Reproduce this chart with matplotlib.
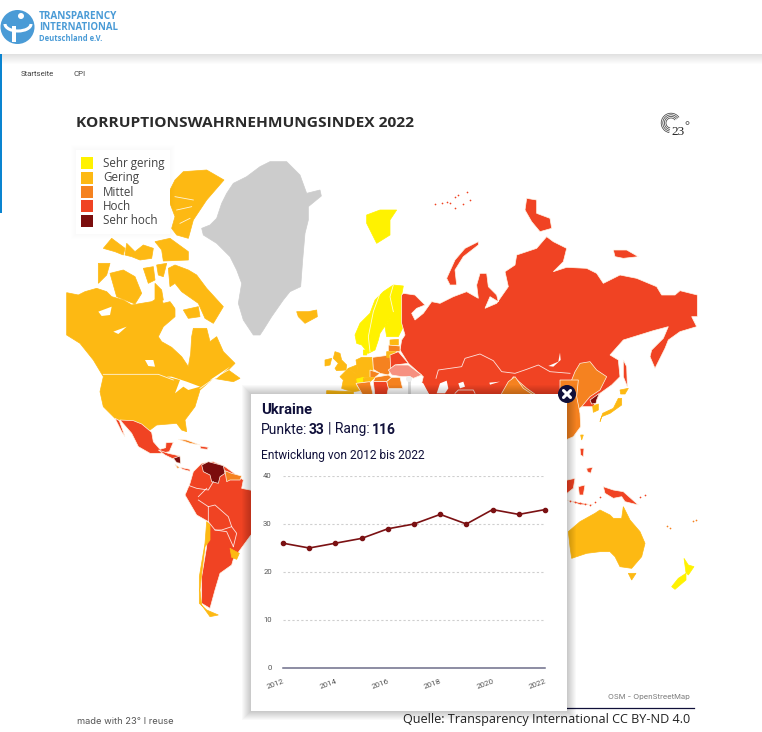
import matplotlib
matplotlib.use("Agg")
import matplotlib.pyplot as plt
from matplotlib.patches import Rectangle, Circle, Arc

# index classes
legend_labels = ["Sehr gering", "Gering", "Mittel", "Hoch", "Sehr hoch"]
legend_colors = ["#fff200", "#fdb913", "#f58220", "#f04323", "#7b0d0d"]
YEL, GER, MIT, HOC, SHO = legend_colors
NODATA = "#cccccc"
HILITE = "#f69080"
NAVY = "#10103a"

# Ukraine series
years = [2012, 2013, 2014, 2015, 2016, 2017, 2018, 2019, 2020, 2021, 2022]
punkte = [26, 25, 26, 27, 29, 30, 32, 30, 33, 32, 33]
y_ticks = [0, 10, 20, 30, 40]
x_ticks = [2012, 2014, 2016, 2018, 2020, 2022]

# map outlines, traced at 3x from crops of the map. (origin x, origin y) per group
NA = (60, 160)
EA = (340, 180)
LA = (100, 400)
OC = (560, 380)
EU = (320, 320)
AS = (430, 340)

greenland = [(425,205),(450,195),(470,175),(485,130),(500,100),(520,70),(560,50),(600,20),(630,5),(680,5),(720,45),(740,100),(780,90),(784,108),(745,140),(745,180),(735,220),(728,300),(722,380),(690,395),(670,420),(635,470),(610,510),(600,525),(580,525),(550,480),(535,430),(545,370),(530,330),(510,290),(470,250),(430,225)]
north_america = [(20,398),(55,405),(75,395),(110,385),(140,395),(155,410),(190,420),(215,435),(245,430),(275,425),(300,410),(310,430),(330,425),(345,445),(345,470),(310,500),(295,530),(305,545),(335,562),(365,590),(385,620),(392,580),(395,530),(400,505),(440,505),(450,545),(470,530),(490,575),(525,610),(505,630),(540,655),(520,665),(460,655),(420,690),(405,740),(375,780),(380,815),(365,810),(350,790),(290,795),(270,810),(255,825),(225,790),(195,785),(165,775),(130,740),(120,695),(130,650),(100,600),(60,550),(20,525)]
baffin = [(325,325),(345,315),(385,330),(410,345),(440,385),(490,440),(460,490),(435,475),(415,430),(365,395),(345,370),(330,380)]
southampton = [(370,450),(415,440),(420,470),(385,475)]
victoria = [(150,340),(190,330),(225,350),(245,400),(225,432),(170,410)]
banks = [(115,310),(150,310),(140,345),(115,370)]
ellesmere = [(370,35),(440,30),(492,60),(440,120),(400,180),(385,235),(350,225),(335,205),(345,170),(330,130),(330,90),(345,60)]
devon = [(285,245),(330,235),(385,275),(385,300),(310,303),(305,270)]
bathurst = [(200,250),(225,275),(250,255),(280,265),(275,295),(240,300),(215,290),(195,285)]
melville = [(130,265),(155,235),(195,265),(190,285),(165,275)]
pr_wales = [(250,325),(280,320),(285,360),(265,370)]
somerset = [(290,315),(320,310),(310,350),(295,345)]
boothia = [(285,370),(305,390),(310,420),(285,430)]
lakes = [
    [(115,455),(155,440),(150,465),(125,468)],
    [(160,515),(200,500),(175,522)],
    [(255,600),(280,600),(285,620),(265,618)],
    [(320,650),(360,660),(345,700),(370,680),(385,690),(420,680),(380,665),(335,650)],
    [(450,660),(510,620),(470,655)],
]
fjords = [
    [(345,110),(400,120)],
    [(350,150),(395,140)],
    [(360,190),(390,175)],
    [(320,395),(350,450)],
]
iceland = [(710,455),(745,455),(770,450),(772,470),(735,490),(715,470)]

svalbard = [(80,105),(120,90),(170,90),(150,120),(150,165),(110,190),(95,160),(80,130)]
scandinavia = [(45,465),(60,430),(90,400),(105,360),(130,335),(160,315),(190,318),(185,345),(195,430),(175,470),(140,470),(135,440),(160,400),(120,460),(115,480),(105,510),(85,520),(65,495),(50,490)]
russia = [(190,340),(225,345),(255,375),(230,385),(215,400),(225,420),(250,400),(275,365),(300,370),(340,350),(380,335),(415,355),(410,315),(420,280),(440,280),(445,320),(470,345),(475,365),(450,350),(435,385),(470,370),(505,320),(495,275),(525,255),(530,225),(590,205),(620,170),(640,185),(680,205),(670,245),(640,275),(680,262),(740,265),(770,280),(790,310),(840,285),(890,295),(950,320),(965,345),(1005,345),(1020,332),(1072,345),(1072,410),(1055,410),(1070,440),(1020,455),(985,480),(975,505),(945,565),(930,530),(935,510),(970,475),(985,440),(940,452),(850,480),(810,525),(835,540),(840,590),(815,615),(780,640),(760,680),(290,680),(245,610),(250,590),(205,550),(180,510),(185,480),(195,465),(185,430),(185,345)]
novaya = [(320,295),(345,240),(375,205),(415,185),(415,195),(370,230),(345,270),(350,315),(330,315)]
severnaya = [(560,55),(590,60),(590,100),(630,115),(635,145),(600,155),(575,125),(555,90)]
novosib = [(820,210),(860,210),(895,230),(850,235),(825,230)]
sakhalin = [(850,540),(860,560),(862,620),(850,590)]
china_ne = [(490,640),(520,590),(560,625),(610,660),(650,660),(695,600),(705,575),(720,550),(750,545),(770,570),(800,590),(780,630),(750,650),(725,680),(700,700),(640,700)]
hokkaido = [(180,30),(205,25),(195,42),(182,42)]
honshu = [(185,55),(185,75),(150,100),(125,110),(120,125),(128,100),(160,85),(175,55)]
nkorea = [(90,60),(118,40),(110,60),(108,70),(95,72)]
skorea = [(98,78),(115,72),(115,90),(100,97)]
taiwan = [(62,165),(70,165),(65,180)]
china_s = [(0,0),(55,0),(50,50),(60,100),(62,140),(40,170),(22,178),(0,178)]
philip1 = [(60,205),(72,205),(70,230),(62,225)]
philip2 = [(80,265),(98,262),(92,280),(82,275)]
borneo = [(0,305),(45,295),(40,325),(21,340),(0,340)]
sulawesi = [(55,320),(75,315),(70,345),(58,345)]
papua = [(130,320),(160,330),(190,335),(235,375),(195,365),(185,350),(160,355),(135,340)]
java = [(21,360),(60,368),(100,375),(60,374)]
australia = [(25,455),(60,425),(105,400),(120,390),(150,405),(160,415),(185,415),(190,380),(210,420),(240,455),(255,490),(245,530),(215,565),(180,560),(165,530),(150,515),(120,515),(80,520),(35,535),(30,500)]
tasmania = [(205,580),(228,580),(215,600)]
nz_north = [(372,535),(385,555),(402,560),(385,585),(378,578)]
nz_south = [(378,580),(378,600),(345,628),(335,620),(355,595)]

mexico = [(60,60),(100,62),(125,72),(155,97),(160,125),(180,148),(197,143),(198,128),(220,127),(208,155),(180,160),(150,160),(115,140),(95,100)]
baja = [(45,55),(58,62),(75,110),(65,95)]
central_am = [(175,150),(205,160),(240,168),(222,178),(195,165)]
nicaragua = [(220,175),(240,168),(242,190),(230,188)]
costa_rica = [(225,193),(240,203),(232,205)]
panama = [(240,202),(270,208),(270,214),(248,208)]
cuba = [(235,118),(260,120),(300,135),(270,130)]
hispaniola = [(300,138),(325,142),(322,148),(302,146)]
south_america = [(270,250),(280,215),(305,190),(340,185),(375,200),(430,240),(425,265),(500,280),(540,340),(520,420),(453,405),(420,450),(400,478),(395,495),(360,520),(345,570),(330,625),(305,610),(305,530),(320,440),(325,365),(290,345),(255,285)]
venezuela = [(305,195),(325,185),(370,197),(375,220),(360,230),(355,250),(335,245),(330,225),(310,215)]
guyanas = [(375,212),(395,220),(425,228),(420,240),(390,240),(380,245)]
uruguay = [(390,445),(418,460),(410,478),(395,472)]
chile = [(320,365),(330,375),(330,420),(315,440),(305,520),(300,570),(305,615),(330,650),(355,645),(320,630),(298,610),(298,530),(315,430)]

uk = [(45,95),(60,100),(65,120),(80,135),(78,150),(50,152),(45,145),(55,130),(40,115)]
ireland = [(15,120),(35,115),(30,135),(15,138)]
france = [(60,170),(85,145),(112,165),(118,180),(108,195),(120,212),(100,215),(80,210),(65,205),(70,180)]
benelux = [(85,145),(110,135),(115,165),(112,165)]
germany = [(108,120),(125,112),(155,112),(160,148),(150,172),(112,175),(112,145)]
swiss = [(110,177),(130,172),(135,185),(112,190)]
poland = [(158,112),(210,105),(218,145),(205,165),(180,160),(160,148)]
czech = [(150,150),(180,160),(165,172),(150,172)]
austria = [(130,175),(150,172),(165,172),(150,185),(130,185)]
denmark = [(130,90),(145,90),(140,105),(130,105)]
estonia = [(210,60),(235,58),(235,75),(210,75)]
latvia = [(205,75),(240,78),(240,95),(205,95)]
lithuania = [(200,95),(228,95),(220,115),(200,112)]
belarus = [(210,105),(235,95),(265,130),(225,135),(212,148)]
ukraine = [(205,150),(225,135),(265,135),(305,165),(280,175),(270,170),(245,170),(215,165)]
hungary = [(165,172),(205,165),(215,172),(200,185),(160,185)]
romania = [(200,185),(215,172),(240,172),(248,205),(205,205)]
balkans = [(160,185),(200,185),(205,205),(200,228),(165,228)]
italy = [(108,190),(150,185),(160,228),(130,228)]
spain = [(20,212),(100,215),(100,228),(20,228)]
black_sea = [(248,180),(275,175),(310,190),(330,228),(250,228)]

china_w = [(215,160),(235,125),(255,110),(280,145),(310,165),(215,165)]
caspian = [(20,160),(30,130),(50,122),(55,145),(45,160)]
aral = [(85,130),(100,125),(105,140),(90,145)]
balkhash = [(178,128),(210,125),(180,134)]
baikal = [(355,78),(385,65),(390,38),(392,60),(370,80)]
kaz_border = [(18,115),(25,90),(60,85),(95,80),(105,55),(150,42),(190,62),(215,95),(255,100),(290,88),(325,75),(360,95),(420,100)]
south_borders = [(75,160),(85,150),(130,150),(135,160)]
sa_borders = [
    [(258,275),(262,255),(290,265),(325,270),(340,245)],
    [(295,290),(320,265)],
    [(295,300),(325,320),(345,315),(385,350),(395,380),(410,400),(400,440)],
    [(325,320),(325,365),(345,390),(365,390),(395,380)],
    [(345,390),(380,395),(400,440)],
]
scand_borders = [
    [(120,340),(100,395),(85,470),(90,515)],
    [(160,315),(150,350),(160,395)],
]
us_border = [(130,643),(295,643),(340,660)]
us_border2 = [(420,685),(470,650),(505,630)]

# specks too small to outline
franz_x = [285, 305, 320, 345, 355, 380, 390, 370, 345, 330]
franz_y = [72, 70, 65, 50, 45, 35, 60, 72, 85, 70]
indo_x = [30, 45, 60, 75, 90, 105, 120, 240, 255]
indo_y = [362, 366, 370, 372, 375, 365, 350, 350, 345]
pacific_x = [320, 330, 400, 408]
pacific_y = [437, 445, 422, 420]

regions = [
    (greenland, NA, NODATA),
    (north_america, NA, GER), (baffin, NA, GER), (southampton, NA, GER), (victoria, NA, GER), (banks, NA, GER),
    (ellesmere, NA, GER), (devon, NA, GER), (bathurst, NA, GER), (melville, NA, GER),
    (pr_wales, NA, GER), (somerset, NA, GER), (boothia, NA, GER), (iceland, NA, GER),
    (svalbard, EA, YEL), (scandinavia, EA, YEL),
    (russia, EA, HOC), (novaya, EA, HOC), (severnaya, EA, HOC), (novosib, EA, HOC), (sakhalin, EA, HOC),
    (china_ne, EA, MIT), (china_s, OC, MIT), (taiwan, OC, GER),
    (hokkaido, OC, GER), (honshu, OC, GER), (nkorea, OC, SHO), (skorea, OC, GER),
    (philip1, OC, HOC), (philip2, OC, HOC), (borneo, OC, HOC), (sulawesi, OC, HOC), (papua, OC, HOC), (java, OC, HOC),
    (australia, OC, GER), (tasmania, OC, GER), (nz_north, OC, YEL), (nz_south, OC, YEL),
    (mexico, LA, HOC), (baja, LA, HOC), (central_am, LA, HOC), (nicaragua, LA, SHO), (costa_rica, LA, MIT),
    (panama, LA, HOC), (cuba, LA, MIT), (hispaniola, LA, HOC),
    (south_america, LA, HOC), (venezuela, LA, SHO), (guyanas, LA, MIT), (uruguay, LA, GER), (chile, LA, GER),
    (uk, EU, GER), (ireland, EU, GER), (france, EU, GER), (benelux, EU, GER), (germany, EU, GER), (swiss, EU, YEL),
    (poland, EU, MIT), (czech, EU, MIT), (austria, EU, GER), (denmark, EU, YEL), (estonia, EU, GER), (latvia, EU, MIT),
    (lithuania, EU, GER), (belarus, EU, HOC), (ukraine, EU, HILITE), (hungary, EU, MIT), (romania, EU, MIT),
    (balkans, EU, HOC), (italy, EU, MIT), (spain, EU, GER),
    (china_w, AS, MIT),
]
water = [
    (black_sea, EU), (caspian, AS), (aral, AS), (balkhash, AS), (baikal, AS),
] + [(l, NA) for l in lakes]
border_lines = [
    (kaz_border, AS), (south_borders, AS), (us_border, NA), (us_border2, NA),
] + [(b, LA) for b in sa_borders] + [(b, EA) for b in scand_borders] + [(f, NA) for f in fjords]
specks = [(franz_x, franz_y, EA, HOC), (indo_x, indo_y, OC, HOC), (pacific_x, pacific_y, OC, MIT)]


def crop(points, origin):
    return [p[0] / 3 + origin[0] for p in points], [p[1] / 3 + origin[1] for p in points]


def soft_shadow(ax, x, y, w, h, spread, alpha, z):
    for i in range(spread, 0, -1):
        ax.add_patch(Rectangle((x - i, y - i), w + 2 * i, h + 2 * i, fc="black", ec="none", alpha=alpha, zorder=z))


fig = plt.figure(figsize=(7.62, 7.32), dpi=100)
ax = fig.add_axes([0, 0, 1, 1])
ax.set_xlim(0, 762)
ax.set_ylim(732, 0)
ax.axis("off")

# map
for pts, origin, col in regions:
    xs, ys = crop(pts, origin)
    ax.fill(xs, ys, color=col, lw=0.5, ec="#fff6e8" if col not in (GER, NODATA, YEL) else col, zorder=2)
for pts, origin in water:
    xs, ys = crop(pts, origin)
    ax.fill(xs, ys, color="white", lw=0, zorder=3)
for pts, origin in border_lines:
    xs, ys = crop(pts, origin)
    ax.plot(xs, ys, color="white", lw=0.6, alpha=0.85, zorder=3)
for sx, sy, origin, col in specks:
    ax.scatter([v / 3 + origin[0] for v in sx], [v / 3 + origin[1] for v in sy], s=1.5, color=col, lw=0, zorder=3)

# pin on Ukraine
ax.plot([409, 409], [379, 395], color="#d8d8d8", lw=2, zorder=4)
ax.add_patch(Circle((409, 379), 3, fc="#eeeeee", ec="none", zorder=4))

# page chrome
soft_shadow(ax, -20, -20, 802, 74, 10, 0.012, 5)
ax.add_patch(Rectangle((0, 0), 762, 54, fc="white", ec="none", zorder=6))
ax.add_patch(Rectangle((0, 54), 1.5, 159, fc="#0a84d0", ec="none", zorder=6))

# logo
ax.add_patch(Circle((17.5, 27), 17, fc="#4a9bd6", ec="none", zorder=7))
ax.add_patch(Arc((18, 24), 26, 14, theta1=0, theta2=180, ec="white", lw=2.2, zorder=8))
ax.add_patch(Rectangle((12, 26), 4, 16, fc="white", ec="none", zorder=8))
ax.add_patch(Circle((21, 16), 3, fc="white", ec="none", zorder=8))
ax.text(39, 16.5, "TRANSPARENCY", fontsize=7.2, fontweight="bold", family="Open Sans", color="#4a9bd6", va="center", zorder=8)
ax.text(39, 27.5, "INTERNATIONAL", fontsize=6.9, fontweight="bold", family="Open Sans", color="#4a9bd6", va="center", zorder=8)
ax.text(39, 38.5, "Deutschland e.V.", fontsize=5.5, fontweight="bold", family="Open Sans", color="#4a9bd6", va="center", zorder=8)

ax.text(21, 74, "Startseite", fontsize=5.7, family="Roboto", color="#444444", va="center")
ax.text(74, 74, "CPI", fontsize=5.7, family="Roboto", color="#444444", va="center")
ax.text(76, 123, "KORRUPTIONSWAHRNEHMUNGSINDEX 2022", fontsize=11.15, fontweight="bold", family="Open Sans", color="#2b2b2b", va="center")

# 23 degree logo
for r in [5, 6.6, 8.2, 9.8]:
    ax.add_patch(Arc((671, 123), 2 * r, 2 * r, theta1=100, theta2=325, ec="#444444", lw=0.55))
ax.text(685, 132, "23", fontsize=9.5, family="Liberation Serif", color="#222222", ha="right", va="center")
ax.text(684, 126, "°", fontsize=9, family="Liberation Serif", color="#222222", va="center")

# legend box
soft_shadow(ax, 76, 150, 94, 84, 5, 0.005, 9)
ax.add_patch(Rectangle((76, 150), 94, 84, fc="white", ec="none", zorder=10))
swatch_y = [157, 172, 186, 200, 215]
for sy, lab, col in zip(swatch_y, legend_labels, legend_colors):
    ax.add_patch(Rectangle((81, sy), 12, 12, fc=col, ec="none", zorder=11))
    ax.text(103, sy + 6, lab, fontsize=8.4, family="Open Sans", color="#444444", va="center", zorder=11)

# footer
ax.text(690, 697, "OSM - OpenStreetMap", fontsize=5.45, family="Inter", color="#777777", ha="right", va="center")
ax.plot([406, 694], [707.5, 707.5], color=NAVY, lw=0.9)
ax.text(690, 720, "Quelle: Transparency International CC BY-ND 4.0", fontsize=9.08, family="Open Sans", color="#222222", ha="right", va="center")
ax.text(77, 721, "made with 23° I reuse", fontsize=6.7, family="Inter", color="#555555", va="center")

# popup
soft_shadow(ax, 251, 394, 316, 317, 9, 0.022, 20)
ax.add_patch(Rectangle((251, 394), 316, 317, fc="white", ec="none", zorder=21))
ax.text(261, 410, "Ukraine", fontsize=10.6, fontweight="bold", family="Roboto", color=NAVY, va="center", zorder=22)
ax.text(261, 429.5, "Punkte:", fontsize=10, family="Roboto", color=NAVY, va="center", zorder=22)
ax.text(309, 429.5, "33", fontsize=10, fontweight="bold", family="Roboto", color=NAVY, va="center", zorder=22)
ax.text(328, 429.5, "| Rang:", fontsize=10, family="Roboto", color=NAVY, va="center", zorder=22)
ax.text(372, 429.5, "116", fontsize=10, fontweight="bold", family="Roboto", color=NAVY, va="center", zorder=22)
ax.text(261, 455.5, "Entwicklung von 2012 bis 2022", fontsize=8.6, family="Roboto", color=NAVY, va="center", zorder=22)

ax.add_patch(Circle((567, 394), 9, fc=NAVY, ec="none", zorder=23))
ax.plot([563.5, 570.5], [390.5, 397.5], color="white", lw=2.2, zorder=24, solid_capstyle="round")
ax.plot([563.5, 570.5], [397.5, 390.5], color="white", lw=2.2, zorder=24, solid_capstyle="round")

# Ukraine line chart
chart = fig.add_axes([283 / 762, 1 - 668 / 732, (545 - 283) / 762, (668 - 476) / 732])
chart.patch.set_alpha(0)
chart.set_xlim(years[0], years[-1])
chart.set_ylim(0, 40)
for sp in chart.spines.values():
    sp.set_visible(False)
chart.spines["bottom"].set_visible(True)
chart.spines["bottom"].set_color("#6e6e8a")
chart.spines["bottom"].set_linewidth(1.1)
chart.set_yticks(y_ticks)
chart.set_xticks(x_ticks)
chart.set_yticklabels([str(v) for v in y_ticks], fontsize=5.6, family="Roboto", color="#555555", va="center")
chart.set_xticklabels([str(v) for v in x_ticks], fontsize=5.8, family="Roboto", color="#555555", rotation=20, ha="right", rotation_mode="anchor")
chart.tick_params(axis="both", length=0)
chart.tick_params(axis="y", pad=8)
chart.tick_params(axis="x", pad=7)
chart.grid(axis="y", color="#cfcfcf", ls=(0, (2, 2)), lw=0.8)
chart.plot(years, punkte, color="#7b1113", lw=1.2, marker="o", ms=3, clip_on=False, zorder=5)

fig.savefig("out.png", dpi=100)
